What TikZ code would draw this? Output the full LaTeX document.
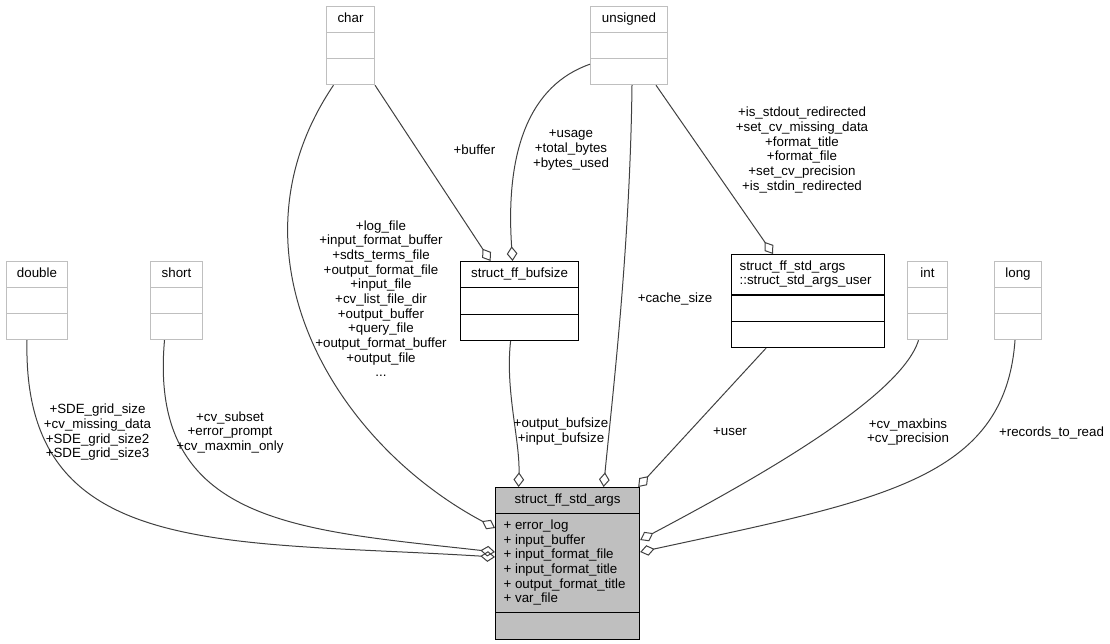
\documentclass[tikz,border=0pt]{standalone}
\usepackage{fontspec}
\setmainfont{Liberation Sans}
\usepackage{tikz}
\usetikzlibrary{positioning}
\usetikzlibrary{shapes.multipart,calc}
\usetikzlibrary{arrows.meta}

\definecolor{boxgray}{HTML}{BFBFBF}
\definecolor{edgegray}{HTML}{404040}

\tikzset{
	typebox/.style={rectangle split, rectangle split parts=3, draw=boxgray, line width=0.75pt,
		inner xsep=6pt, inner ysep=3.9pt, execute at begin node=\strut,
		rectangle split empty part height=7.7pt, rectangle split empty part depth=3.3pt},
	classbox/.style={typebox, draw=black, line width=0.9pt, align=left},
	agg/.style={draw=edgegray, line width=0.75pt, -{Diamond[open, length=11pt, width=8pt]}},
	lbl/.style={align=center, inner sep=0pt}
}

\begin{document}
\begin{tikzpicture}[x=0.75pt, y=-0.75pt, node distance=2.5cm,
		every node/.append style={font=\fontsize{10pt}{11pt}\selectfont}]
		\useasboundingbox (0,0) rectangle (1110,643);
		% plain types
		\node[typebox, anchor=north west, minimum width=45.75pt] (double) at (6,261) {double \nodepart{two} \nodepart{three}};
		\node[typebox, minimum width=39pt, right=61.5pt of double.north east, anchor=north west] (short) {short \nodepart{two} \nodepart{three}};
		\node[typebox, anchor=north west, minimum width=36pt] (char) at (326,6) {char \nodepart{two} \nodepart{three}};
		\node[typebox, minimum width=57.75pt, right=161.25pt of char.north east, anchor=north west] (unsigned) {unsigned \nodepart{two} \nodepart{three}};
		\node[typebox, anchor=north west, minimum width=30pt] (int) at (907,261) {int \nodepart{two} \nodepart{three}};
		\node[typebox, minimum width=35.25pt, right=34.5pt of int.north east, anchor=north west] (long) {long \nodepart{two} \nodepart{three}};
		% structs
		\node[classbox, anchor=north west, minimum width=88.5pt] (bufsize) at (460,261) {struct\_ff\_bufsize \nodepart{two} \nodepart{three}};
		\node[classbox, anchor=north west, minimum width=114.75pt, rectangle split part align={left,center,center}] (user) at (731,254)
			{struct\_ff\_std\_args\\::struct\_std\_args\_user \nodepart{two} \nodepart{three}};
		\node[classbox, anchor=north west, minimum width=108pt, fill=boxgray, rectangle split part align={center,left,center}] (args) at (495,487)
			{struct\_ff\_std\_args
			\nodepart{two} + error\_log\\
			+ input\_buffer\\
			+ input\_format\_file\\
			+ input\_format\_title\\
			+ output\_format\_title\\
			+ var\_file
			\nodepart{three}};

		% members
		\draw[agg] ($(double.south)+(-10,0)$) .. controls (22,560) and (220,540) .. ($(args.north west)+(0,70)$);
		\draw[agg] ($(short.south)+(-12,0)$) .. controls (148,525) and (300,530) .. ($(args.north west)+(0,65)$);
		\draw[agg] ($(char.south)+(-17,0)$) .. controls (222,250) and (330,440) .. ($(args.north west)+(0,41)$);
		\draw[agg] (char.south east) -- ($(bufsize.north)+(-29,0)$);
		\draw[agg] ($(unsigned.south west)+(0,-21)$) .. controls (530,85) and (505,150) .. ($(bufsize.north)+(-7,0)$);
		\draw[agg] ($(unsigned.south)+(3,0)$) .. controls (630,250) and (612,400) .. ($(args.north)+(36,0)$);
		\draw[agg] ($(unsigned.south east)+(-12,0)$) -- ($(user.north)+(-35,0)$);
		\draw[agg] ($(bufsize.south)+(-9,0)$) .. controls (505,390) and (520,440) .. ($(args.north)+(-49,0)$);
		\draw[agg] ($(user.south)+(-42,0)$) -- ($(args.north east)+(-2,0)$);
		\draw[agg] ($(int.south)+(-9,0)$) .. controls (900,400) and (740,487) .. ($(args.north east)+(0,53)$);
		\draw[agg] ($(long.south)+(-3,0)$) .. controls (1005,480) and (880,500) .. ($(args.north east)+(0,65)$);

		% labels
		\node[lbl] (ldouble) at (97.5,432.5) {+SDE\_grid\_size\\+cv\_missing\_data\\+SDE\_grid\_size2\\+SDE\_grid\_size3};
		\node[lbl] (lshort) at (230,432.5) {+cv\_subset\\+error\_prompt\\+cv\_maxmin\_only};
		\node[lbl] (lchar) at (381,298.5) {+log\_file\\+input\_format\_buffer\\+sdts\_terms\_file\\+output\_format\_file\\+input\_file\\+cv\_list\_file\_dir\\+output\_buffer\\+query\_file\\+output\_format\_buffer\\+output\_file\\...};
		\node[lbl] (lbuffer) at (474.5,150) {+buffer};
		\node[lbl] (lusage) at (571,150) {+usage\\+total\_bytes\\+bytes\_used};
		\node[lbl] (lcache) at (675,299) {+cache\_size};
		\node[lbl] (lflags) at (802,150) {+is\_stdout\_redirected\\+set\_cv\_missing\_data\\+format\_title\\+format\_file\\+set\_cv\_precision\\+is\_stdin\_redirected};
		\node[lbl] (lbufio) at (561,431.5) {+output\_bufsize\\+input\_bufsize};
		\node[lbl] (luser) at (730,432) {+user};
		\node[lbl] (lint) at (908,432) {+cv\_maxbins\\+cv\_precision};
		\node[lbl] (llong) at (1051.5,433) {+records\_to\_read};
		%\node[lbl, below=0.5cm of args] (note) {};
	\end{tikzpicture}
\end{document}
